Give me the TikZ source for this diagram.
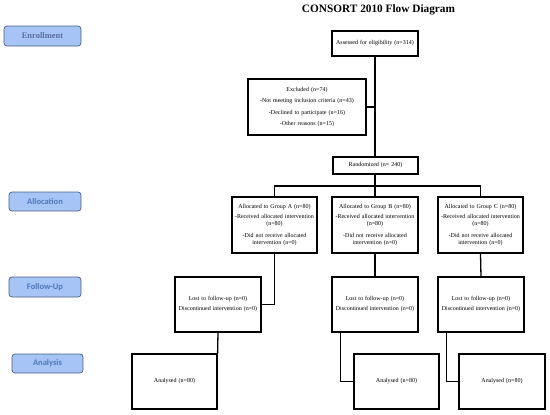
\documentclass[tikz,border=0pt]{standalone}
\usepackage{fontspec}
\setmainfont{Liberation Serif}
\newfontfamily\stagefont{Carlito}
\usetikzlibrary{positioning}
\definecolor{stagefill}{HTML}{A6C4F5}
\definecolor{stageline}{HTML}{4A5F85}
\definecolor{stagetext}{HTML}{4F78B8}
\definecolor{enroltext}{HTML}{5A70A2}

\begin{document}
\begin{tikzpicture}[
		x=1pt, y=-1pt,
		box/.style={draw, line width=1.2pt, align=center, inner sep=1pt,
			font=\fontsize{6}{7}\selectfont, text width=#1-4pt},
		box/.default=88pt,
		stage/.style={draw=stageline, fill=stagefill, rounded corners=3pt,
			line width=0.7pt, minimum height=19pt, text=stagetext,
			font=\stagefont\bfseries\fontsize{8.5}{10}\selectfont},
		link/.style={line width=1.3pt}
		]
		\useasboundingbox (0,0) rectangle (550,415);
		
		% Title
		\node[font=\bfseries\fontsize{11.3}{13}\selectfont] (title) at (378.5,10) {CONSORT 2010 Flow Diagram};
		
		% -------------------------
		% Stage labels
		% -------------------------
		\node[stage, minimum width=77pt, minimum height=20pt, text=enroltext,
			font=\rmfamily\bfseries\fontsize{8.5}{10}\selectfont] (enrol) at (42.5,36) {Enrollment};
		\node[stage, minimum width=72pt] (alloc) at (45,201.5) {Allocation};
		\node[stage, minimum width=72pt, minimum height=20pt] (follow) at (45,287) {Follow-Up};
		\node[stage, minimum width=71pt] (analys) at (47.5,363.5) {Analysis};
		
		% -------------------------
		% Enrollment
		% -------------------------
		\node[box, minimum height=25pt] (assess) at (375,43.5) {Assessed for eligibility (n=314)};
		
		\node[box=120pt, minimum height=56pt] (excl) at (307,107) {%
			Excluded (n=74)\\[4.5pt]
			-Not meeting inclusion criteria (n=43)\\[4.5pt]
			-Declined to participate (n=16)\\[4.5pt]
			-Other reasons (n=15)
		};
		
		\node[box=87pt, minimum height=17pt] (rand) at (375.5,165.5) {Randomized (n= 240)};
		\coordinate (split) at (375,186);
		
		% -------------------------
		% Allocation
		% -------------------------
		\node[box=87pt, minimum height=56pt] (grpA) at (274.5,225) {%
			Allocated to Group A (n=80)\\[3pt]
			-Received allocated intervention\\
			(n=80)\\[5pt]
			-Did not receive allocated\\
			intervention (n=0)
		};
		\node[box, minimum height=56pt] (grpB) at (375,225) {%
			Allocated to Group B (n=80)\\[3pt]
			-Received allocated intervention\\
			(n=80)\\[5pt]
			-Did not receive allocated\\
			intervention (n=0)
		};
		\node[box=87pt, minimum height=56pt] (grpC) at (480.5,225) {%
			Allocated to Group C (n=80)\\[3pt]
			-Received allocated intervention\\
			(n=80)\\[5pt]
			-Did not receive allocated\\
			intervention (n=0)
		};
		
		% -------------------------
		% Follow-up
		% -------------------------
		\node[box, minimum height=55pt] (fupA) at (218,304.5) {%
			Lost to follow-up (n=0)\\[3pt]
			Discontinued intervention (n=0)
		};
		\node[box, minimum height=55pt] (fupB) at (375,304.5) {%
			Lost to follow-up (n=0)\\[3pt]
			Discontinued intervention (n=0)
		};
		\node[box, minimum height=55pt] (fupC) at (481,304.5) {%
			Lost to follow-up (n=0)\\[3pt]
			Discontinued intervention (n=0)
		};
		
		% -------------------------
		% Analysis
		% -------------------------
		\node[box=87pt, minimum height=55pt] (anaA) at (174.5,381.5) {Analysed (n=80)};
		\node[box=87pt, minimum height=55pt] (anaB) at (396.5,381.5) {Analysed (n=80)};
		\node[box, minimum height=55pt] (anaC) at (502,381.5) {Analysed (n=80)};
		
		% -------------------------
		% Lines
		% -------------------------
		\draw[link] (assess.south) -- (assess.south |- rand.north);
		\draw[link] (excl.east) -- (excl.east -| assess.south);
		\draw[link] (rand.south -| split) -- (split);
		\draw[link] (grpA.north) |- (split) -| (grpC.north);
		\draw[link] (split) -- (grpB.north);
		
		\draw[link] (grpA.south) |- (fupA.east);
		\draw[link] (grpB.south) -- (fupB.north);
		\draw[link] (grpC.south) -- (fupC.north);
		
		\draw[link] (fupA.south) -- (anaA.north east);
		\draw[link] (fupB.south west) ++(9,0) |- (anaB.west);
		\draw[link] (fupC.south west) ++(9,0) |- (anaC.west);
		
	\end{tikzpicture}
\end{document}
